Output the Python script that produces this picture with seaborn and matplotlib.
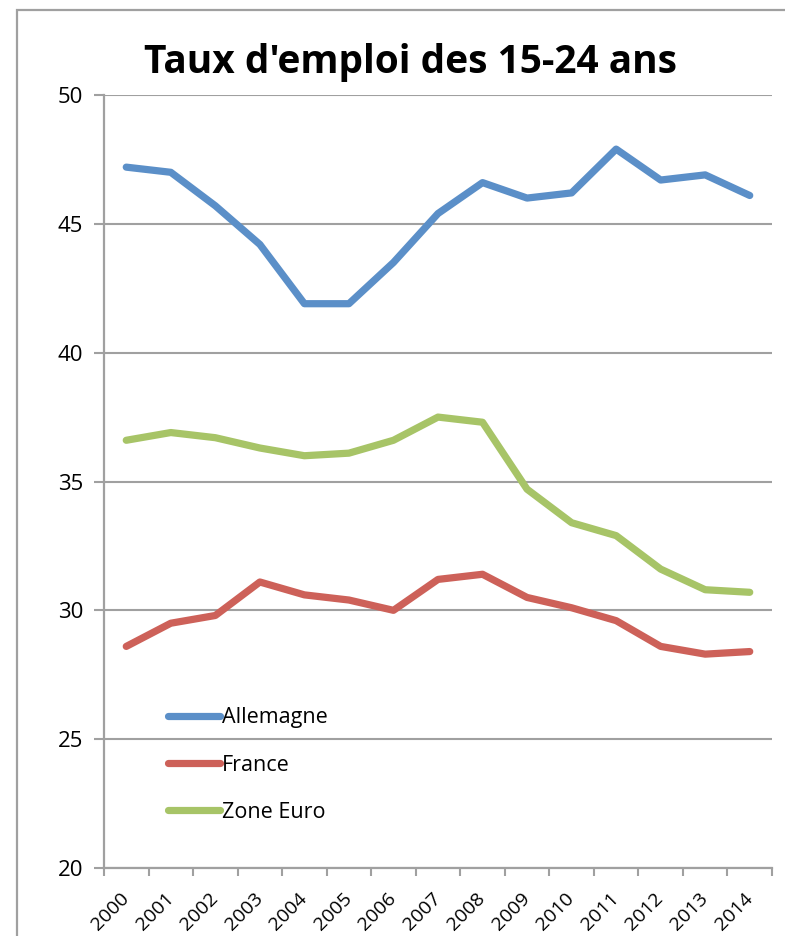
import pandas as pd
import matplotlib.pyplot as plt
import seaborn as sns
from matplotlib.patches import Rectangle
from matplotlib.ticker import FixedLocator

# --- DATA ---
YEARS = ['2000', '2001', '2002', '2003', '2004', '2005', '2006', '2007',
         '2008', '2009', '2010', '2011', '2012', '2013', '2014']
ALLEMAGNE = [47.2, 47.0, 45.7, 44.2, 41.9, 41.9, 43.5, 45.4,
             46.6, 46.0, 46.2, 47.9, 46.7, 46.9, 46.1]
FRANCE = [28.6, 29.5, 29.8, 31.1, 30.6, 30.4, 30.0, 31.2,
          31.4, 30.5, 30.1, 29.6, 28.6, 28.3, 28.4]
ZONE_EURO = [36.6, 36.9, 36.7, 36.3, 36.0, 36.1, 36.6, 37.5,
             37.3, 34.7, 33.4, 32.9, 31.6, 30.8, 30.7]
SERIES = ['Allemagne', 'France', 'Zone Euro']
Y_TICKS = [20, 25, 30, 35, 40, 45, 50]

PALETTE = {'Allemagne': '#5B8FC8', 'France': '#CD6159', 'Zone Euro': '#A7C467'}
GRID = '#A0A0A0'

# long frame for seaborn
frames = []
for name, vals in zip(SERIES, [ALLEMAGNE, FRANCE, ZONE_EURO]):
    frames.append(pd.DataFrame({'idx': range(len(YEARS)), 'Année': YEARS,
                                'Taux': vals, 'Série': name}))
df = pd.concat(frames, ignore_index=True)

sns.set_theme(style='white')
plt.rcParams['font.family'] = ['Open Sans', 'DejaVu Sans']
plt.rcParams['text.color'] = 'black'
plt.rcParams['xtick.labelcolor'] = 'black'
plt.rcParams['ytick.labelcolor'] = 'black'

fig = plt.figure(figsize=(7.85, 9.36), dpi=100)
ax = fig.add_axes([104 / 785, 1 - 868 / 936, 668 / 785, 773 / 936])

# outer chart frame (Excel style)
fig.patches.append(Rectangle((17 / 785, -0.05), 1.2, 1 - 10 / 936 + 0.05,
                             transform=fig.transFigure, fill=False,
                             edgecolor=GRID, linewidth=1.6))

sns.lineplot(data=df, x='idx', y='Taux', hue='Série', hue_order=SERIES,
             palette=PALETTE, linewidth=5.2, sort=False, ax=ax,
             solid_capstyle='round', solid_joinstyle='round', legend=False)

ax.set_xlim(-0.5, len(YEARS) - 0.5)
ax.set_ylim(20, 50)
ax.set_yticks(Y_TICKS)
ax.yaxis.grid(True, color=GRID, linewidth=1.5)
ax.set_axisbelow(True)

ax.set_xticks(range(len(YEARS)))
ax.set_xticklabels(YEARS, rotation=45, ha='right', va='center',
                   rotation_mode='anchor', fontsize=14)
ax.xaxis.set_minor_locator(FixedLocator([i - 0.5 for i in range(len(YEARS) + 1)]))
ax.tick_params(axis='x', which='major', length=0, pad=20)
ax.tick_params(axis='x', which='minor', length=6, width=1.5, color=GRID,
               direction='out', bottom=True)
ax.tick_params(axis='y', length=7, width=1.5, color=GRID, direction='out',
               left=True, labelsize=16, pad=8)

for side in ['top', 'right']:
    ax.spines[side].set_visible(False)
for side in ['left', 'bottom']:
    ax.spines[side].set_color(GRID)
    ax.spines[side].set_linewidth(1.6)

ax.set_xlabel('')
ax.set_ylabel('')

handles = [plt.Line2D([], [], color=PALETTE[s], linewidth=5.2,
                      solid_capstyle='round') for s in SERIES]
ax.legend(handles, SERIES, loc='upper left', bbox_to_anchor=(0.083, 0.219),
          frameon=False, fontsize=15.5, handlelength=2.4, handletextpad=0.1,
          labelspacing=1.22, borderaxespad=0, labelcolor='black')

fig.text(411 / 785, 1 - 62 / 936, "Taux d'emploi des 15-24 ans",
         ha='center', va='center', fontsize=28, fontweight='bold',
         color='black')

fig.savefig('out.png', dpi=100)
